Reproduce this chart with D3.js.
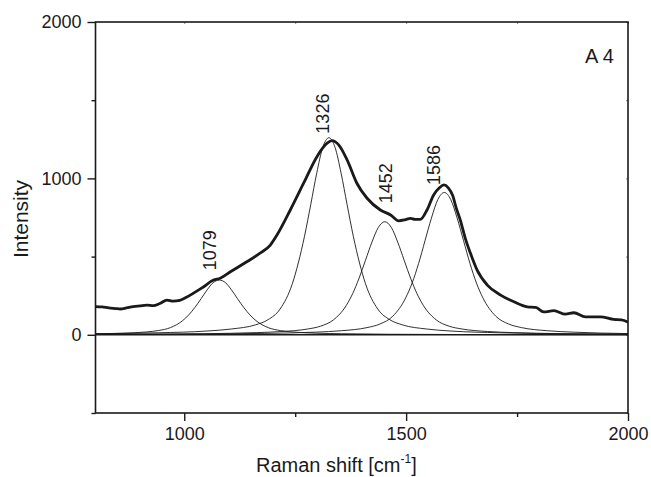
<!DOCTYPE html>
<html><head><meta charset="utf-8">
<script src="https://cdn.jsdelivr.net/npm/d3@7"></script>
<style>
body{margin:0;background:#fff}
svg{display:block}
text{font-family:"Liberation Sans",Arial,Helvetica,sans-serif;fill:#1a1a1a}
</style>
</head><body>
<svg id="chart" width="651" height="477"></svg>
<script>
// ---- data ----
const specX = [800,815,830,845,856,870,885,900,916,930,945,961,975,990,1005,1020,1040,1066,1081,1104,1141,1170,1194,1209,1239,1269,1299,1322,1333,1348,1367,1389,1412,1442,1465,1483,1497,1510,1520,1532,1547,1562,1575,1585,1595,1605,1613,1622,1633,1645,1660,1683,1713,1743,1773,1792,1810,1833,1859,1878,1904,1938,1968,1985,1998,2000];
const specY = [180,178,172,168,165,172,180,185,190,186,200,222,215,220,240,265,300,350,362,403,467,520,574,638,798,969,1139,1225,1241,1214,1118,969,873,798,766,729,735,745,738,738,798,894,940,958,940,890,810,734,620,521,414,318,254,211,179,175,147,154,132,141,115,115,98,95,83,80];

const band1079X = [800,859,914,941.5,969,996.5,1010,1024,1038,1051.5,1065,1079,1093,1106.5,1120,1134,1148,1161.5,1189,1216.5,1244,1299,1354,1464,1629,2000];
const band1079Y = [6,10,18,27,46,91,127,175,231,287,333,350,333,287,231,175,127,91,46,27,18,10,7,3.5,1.8,0.5];

const band1326X = [800,941,1051,1106,1161,1188.5,1216,1243.5,1257,1271,1285,1298.5,1312,1326,1340,1353.5,1367,1381,1395,1408.5,1436,1463.5,1491,1546,1601,1711,1876,2000];
const band1326Y = [7,13,24,37,64,96,165,326,459,630,832,1033,1197,1260,1197,1033,832,630,459,326,165,96,64,37,24,13,6,5];

const band1452X = [800,872,1046,1162,1220,1278,1307,1336,1365,1379.5,1394,1408.5,1423,1437.5,1452,1466.5,1481,1495.5,1510,1524.5,1539,1568,1597,1626,1684,1742,1858,2000];
const band1452Y = [3,3.6,7,14,21,37,55,95,187,263,362,477,593,687,723,687,593,477,362,263,187,95,55,37,21,14,7,3.6];

const band1586X = [800,976,1180,1296,1354,1412,1441,1470,1499,1513.5,1528,1542.5,1557,1571.5,1586,1600.5,1615,1629.5,1644,1658.5,1673,1702,1731,1760,1818,1876,2000];
const band1586Y = [3.5,4.5,9,17,26,46,69,119,236,331,455,601,746,865,910,865,746,601,455,331,236,119,69,46,26,17,8];

const peakLabels = ["1079","1326","1452","1586"];
const peakCenters = [1079,1326,1452,1586];
const peakTops = [362,1235,790,958];

const xMajor = [1000,1500,2000];
const xMinor = [1250,1750];
const yMajor = [0,1000,2000];
const yMinor = [-500,500,1500];
const xTitle = "Raman shift [cm";
const xTitleSup = "-1";
const yTitle = "Intensity";
const panelLabel = "A 4";

// ---- drawing ----
const svg = d3.select("#chart");
const L = 95.5, R = 628, T = 22, B = 413;
const x = d3.scaleLinear().domain([800,2000]).range([L,R]);
const y = d3.scaleLinear().domain([-500,2000]).range([B,T]);
const ink = "#1a1a1a";

svg.append("clipPath").attr("id","clip")
  .append("rect").attr("x",L).attr("y",T).attr("width",R-L).attr("height",B-T);

// axes
function styleAxis(g){
  g.select(".domain").remove();
  g.selectAll("line").attr("stroke",ink).attr("stroke-width",1.4);
  g.selectAll("text").attr("font-size",18).attr("fill",ink)
   .attr("font-family",'"Liberation Sans",Arial,sans-serif');
}
svg.append("g").attr("transform",`translate(${L},0)`)
  .call(d3.axisLeft(y).tickValues(yMajor).tickSize(8).tickPadding(6).tickFormat(d3.format("d")))
  .call(styleAxis);
svg.append("g").attr("transform",`translate(${L},0)`)
  .call(d3.axisLeft(y).tickValues(yMinor).tickSize(4).tickFormat(""))
  .call(styleAxis);
svg.append("g").attr("transform",`translate(0,${B})`)
  .call(d3.axisBottom(x).tickValues(xMajor).tickSize(8).tickPadding(6).tickFormat(d3.format("d")))
  .call(styleAxis);
svg.append("g").attr("transform",`translate(0,${B})`)
  .call(d3.axisBottom(x).tickValues(xMinor).tickSize(4).tickFormat(""))
  .call(styleAxis);
// faint inner mirror ticks (top / right)
svg.append("g").attr("transform",`translate(0,${T})`)
  .call(d3.axisBottom(x).tickValues(xMajor.concat(xMinor)).tickSize(2).tickFormat(""))
  .call(g=>{g.select(".domain").remove(); g.selectAll("line").attr("stroke","#888").attr("stroke-width",1);});
svg.append("g").attr("transform",`translate(${R},0)`)
  .call(d3.axisLeft(y).tickValues(yMajor.concat(yMinor)).tickSize(2).tickFormat(""))
  .call(g=>{g.select(".domain").remove(); g.selectAll("line").attr("stroke","#888").attr("stroke-width",1);});

// zero line
svg.append("line").attr("x1",L).attr("x2",R).attr("y1",y(0)).attr("y2",y(0))
  .attr("stroke",ink).attr("stroke-width",1.5);

// component bands
const bands = [[band1079X,band1079Y],[band1326X,band1326Y],[band1452X,band1452Y],[band1586X,band1586Y]];
const line = d3.line().x(d=>x(d[0])).y(d=>y(d[1])).curve(d3.curveMonotoneX);
const plot = svg.append("g").attr("clip-path","url(#clip)");
bands.forEach(([bx,by])=>{
  plot.append("path").datum(bx.map((v,i)=>[v,by[i]]))
    .attr("d",line).attr("fill","none").attr("stroke",ink).attr("stroke-width",0.9);
});
// measured spectrum
plot.append("path").datum(specX.map((v,i)=>[v,specY[i]]))
  .attr("d",line).attr("fill","none").attr("stroke",ink).attr("stroke-width",2.8)
  .attr("stroke-linejoin","round");

// frame
svg.append("rect").attr("x",L).attr("y",T).attr("width",R-L).attr("height",B-T)
  .attr("fill","none").attr("stroke",ink).attr("stroke-width",1.6);

// peak labels (rotated)
const labelDx = [-3,0,7,-4];
const labelGap = [8,8,8,0];
peakLabels.forEach((t,i)=>{
  const px = x(peakCenters[i]) + labelDx[i];
  const py = y(peakTops[i]) - labelGap[i];
  svg.append("text").attr("transform",`translate(${px},${py}) rotate(-90)`)
    .attr("text-anchor","start").attr("font-size",18).text(t);
});

// panel label
svg.append("text").attr("x",614).attr("y",63).attr("text-anchor","end")
  .attr("font-size",20).text(panelLabel);

// axis titles
const xt = svg.append("text").attr("x",256).attr("y",472).attr("font-size",20);
xt.append("tspan").text(xTitle);
xt.append("tspan").attr("font-size",12).attr("dy",-9).text(xTitleSup);
xt.append("tspan").attr("dy",9).text("]");

svg.append("text").attr("transform","translate(28,219) rotate(-90)")
  .attr("text-anchor","middle").attr("font-size",21).text(yTitle);
</script>
</body></html>
